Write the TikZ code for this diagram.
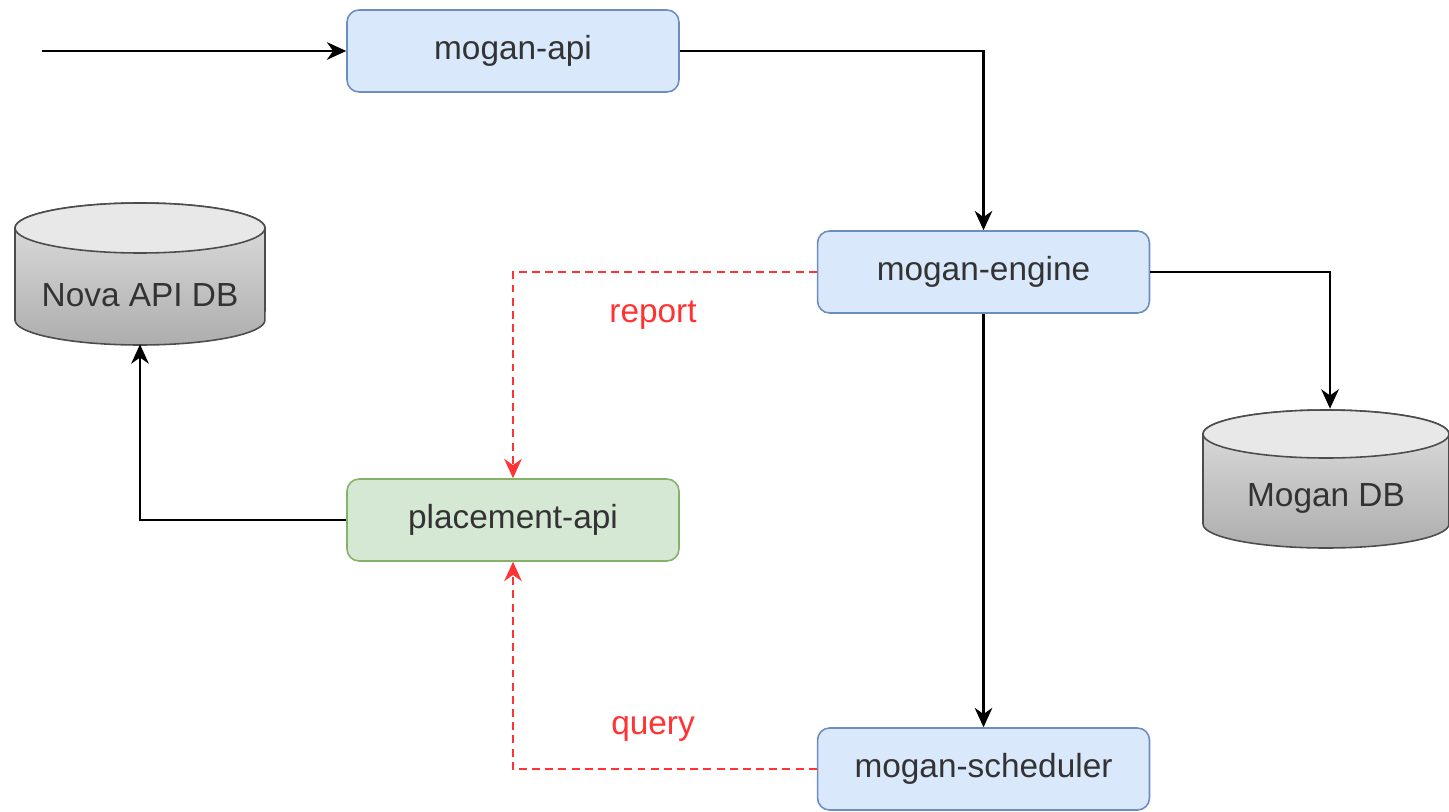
\documentclass[tikz,border=0pt]{standalone}
\usepackage{fontspec}
\setmainfont{Liberation Sans}
\usepackage{tikz}
\usetikzlibrary{positioning,arrows.meta}

\definecolor{boxblue}{HTML}{DAE8FC}
\definecolor{lineblue}{HTML}{6C8EBF}
\definecolor{boxgreen}{HTML}{D5E8D4}
\definecolor{linegreen}{HTML}{82B366}
\definecolor{textgray}{HTML}{333333}
\definecolor{linkred}{HTML}{FF3333}

\begin{document}
\begin{tikzpicture}[x=0.02cm, y=-0.02cm,
	font=\fontsize{19}{22}\selectfont,
	svc/.style={draw=lineblue, fill=boxblue, line width=0.9pt, rounded corners=0.24cm,
		minimum width=6.64cm, minimum height=1.64cm, text=textgray},
	db/.style={minimum width=5cm, minimum height=2.8cm, inner sep=0pt},
	dbbody/.style={top color=black!12, bottom color=black!32, draw=black!70, line width=0.9pt},
	dbtop/.style={fill=black!9, draw=black!70, line width=0.9pt},
	flow/.style={-{Stealth[length=11pt,width=10pt,inset=3.5pt]}, line width=1.4pt},
	link/.style={-{Stealth[length=11pt,width=10pt,inset=3.5pt]}, line width=1.1pt, linkred,
		dash pattern=on 4.5pt off 3pt},
	tag/.style={text=linkred}]
	\useasboundingbox (0,0) rectangle (1449,811);
	
	% databases
	\path[dbbody] (15,228) -- (15,320) arc[start angle=180, end angle=360, x radius=2.5cm, y radius=0.5cm]
		-- (265,228) arc[start angle=0, end angle=180, x radius=2.5cm, y radius=0.5cm] -- cycle;
	\path[dbtop] (140,228) ellipse[x radius=2.5cm, y radius=0.5cm];
	\path[dbbody] (1203,434) -- (1203,524) arc[start angle=180, end angle=360, x radius=2.46cm, y radius=0.48cm]
		-- (1449,434) arc[start angle=0, end angle=180, x radius=2.46cm, y radius=0.48cm] -- cycle;
	\path[dbtop] (1326,434) ellipse[x radius=2.46cm, y radius=0.48cm];
	
	\node[db] (novadb) at (140, 274) {};
	\node[text=textgray] (novatext) at (140, 295) {Nova API DB};
	\node[db] (mogandb) at (1326, 479) {};
	\node[text=textgray] (mogantext) at (1326, 498) {Mogan DB};
	
	% services
	\node[svc] (api) at (513, 51) {mogan-api};
	\node[svc] (engine) at (983.5, 272) {mogan-engine};
	\node[svc, draw=linegreen, fill=boxgreen] (placement) at (513, 520) {placement-api};
	\node[svc] (scheduler) at (983.5, 769) {mogan-scheduler};
	
	\coordinate (entry) at (42, 51);
	
	\draw[flow] (entry) -- (api);
	\draw[flow] (api.east) -| (engine.north);
	\draw[flow] (engine.east) -| ([xshift=0.08cm]mogandb.north);
	\draw[flow] (engine) -- (scheduler);
	\draw[flow] (placement.west) -| (novadb.south);
	
	\draw[link] (engine.west) -| (placement.north);
	\draw[link] (scheduler.west) -| (placement.south);
	\node[tag] (report) at (653, 315) {report};
	\node[tag] (query) at (653, 729) {query};
\end{tikzpicture}
\end{document}
